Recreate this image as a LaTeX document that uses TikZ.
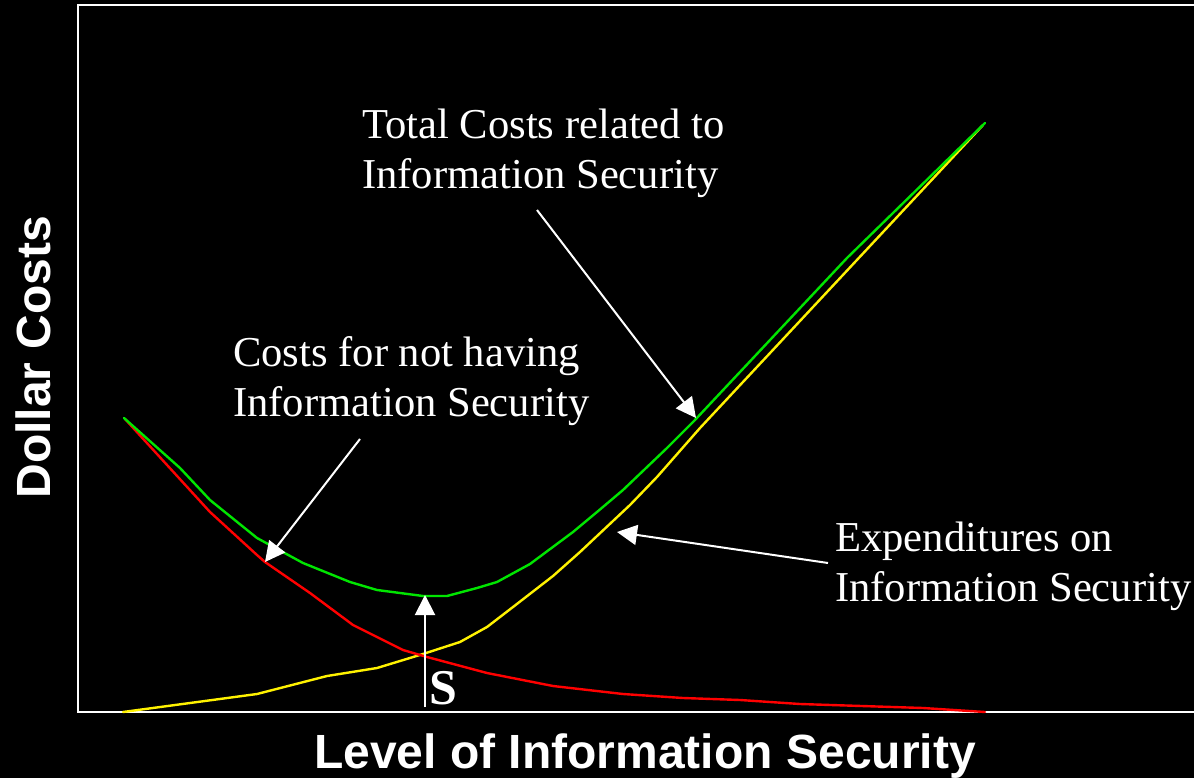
\documentclass[tikz,border=0pt]{standalone}
\usepackage{fontspec}
\setmainfont{Liberation Serif}
\newfontfamily\axisfont{Liberation Sans}
\usetikzlibrary{arrows.meta}
\tikzset{>={Triangle[width=20pt,length=20pt]}}
\tikzset{
  curvelabel/.style={shape=rectangle,inner sep=0pt,anchor=north west,align=left,text=white,font=\fontsize{42.6}{50}\selectfont},
  pointlabel/.style={shape=rectangle,inner sep=0pt,anchor=north west,text=white,font=\bfseries\fontsize{50}{50}\selectfont},
  axislabel/.style={inner sep=0pt,anchor=base,text=white,font=\axisfont\bfseries\fontsize{48}{48}\selectfont},
  pointer/.style={draw=white,line width=2pt,->},
  costline/.style={line width=2.4pt,line join=round,line cap=round}
}

\begin{document}
\begin{tikzpicture}[x=1pt,y=-1pt]
\fill[black] (0,0) rectangle (1194,778);
\useasboundingbox (0,0) rectangle (1194,778);

% frame of the plot
\draw[white,line width=2pt] (1194,5) -- (78,5) -- (78,712) -- (1194,712);

% expenditures
\draw[costline,yellow] (123,712) -- (257,694) -- (327,676) -- (377,668) -- (423,654) -- (460,642) -- (487,627) -- (513,607) -- (553,576) -- (580,552) -- (630,505) -- (657,477) -- (700,428) -- (983,125);

% costs for not having it
\draw[costline,red] (125,419) -- (210,512) -- (257,555) -- (265,562) -- (310,593) -- (353,625) -- (403,650) -- (427,657) -- (487,673) -- (553,686) -- (623,694) -- (683,698) -- (740,700) -- (800,704) -- (923,708) -- (985,712);

% total
\draw[costline,green!90!black] (124,418) -- (180,468) -- (210,500) -- (257,538) -- (303,563) -- (350,582) -- (377,590) -- (423,596) -- (447,596) -- (477,588) -- (497,582) -- (530,564) -- (573,532) -- (597,512) -- (623,490) -- (667,448) -- (694,421) -- (847,258) -- (985,123);

\path (362,109) node [curvelabel] (total) {Total Costs related to\\Information Security};
\path (233,336) node [curvelabel] (nothave) {Costs for not having\\Information Security};
\path (835,522) node [curvelabel] (expend) {Expenditures on\\Information Security};
\path (429,671) node [pointlabel] (optimum) {S};

\path (645,768) node [axislabel] (xlabel) {Level of Information Security};
\path (50,357) node [axislabel,rotate=90] (ylabel) {Dollar Costs};

\coordinate (total-tail) at (537,210);
\coordinate (total-tip) at (696,418);
\coordinate (nothave-tail) at (360,439);
\coordinate (nothave-tip) at (265,562);
\coordinate (expend-tail) at (828,563);
\coordinate (expend-tip) at (617,532);
\coordinate (optimum-tail) at (425,707);
\coordinate (optimum-tip) at (425,595);

\draw[pointer] (total-tail) -- (total-tip);
\draw[pointer] (nothave-tail) -- (nothave-tip);
\draw[pointer] (expend-tail) -- (expend-tip);
\draw[pointer] (optimum-tail) -- (optimum-tip);

\end{tikzpicture}
\end{document}
